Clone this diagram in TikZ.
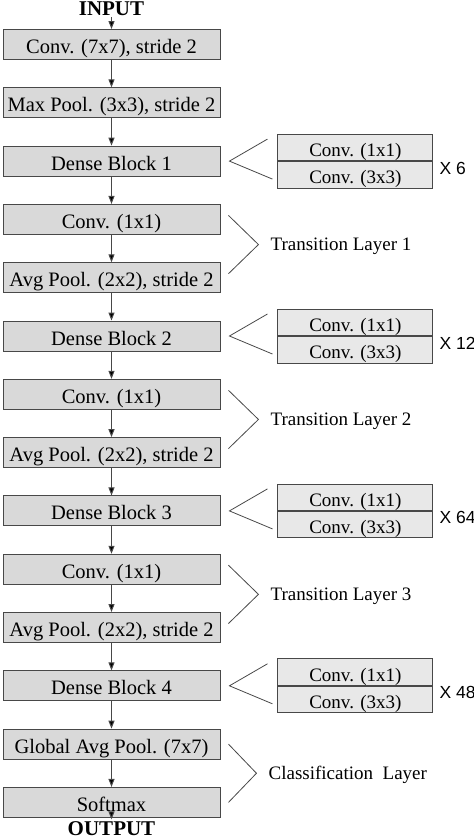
\documentclass[tikz,border=0pt]{standalone}
\usepackage{fontspec}
\setmainfont{Liberation Serif}
\newfontfamily\labelsans{Liberation Sans}
\usetikzlibrary{positioning,calc,arrows.meta}
\definecolor{boxfill}{HTML}{D9D9D9}
\definecolor{subfill}{HTML}{E8E8E8}
\definecolor{edgegray}{HTML}{484848}
\tikzset{
  layer/.style={draw=edgegray, fill=boxfill, line width=0.9pt,
    minimum width=217pt, minimum height=30pt, inner sep=2pt,
    text height=21pt, text depth=3pt, font=\fontsize{20.5}{24}\selectfont},
  unit/.style={draw=edgegray, fill=subfill, line width=0.9pt,
    minimum width=155pt, minimum height=26.5pt, inner sep=2pt,
    text height=20pt, text depth=2pt, font=\fontsize{19}{22}\selectfont},
  io/.style={font=\fontsize{21}{24}\selectfont\bfseries, inner sep=2pt, anchor=base},
  brace/.style={draw=edgegray, line width=0.8pt},
  side/.style={font=\fontsize{19}{22}\selectfont, anchor=west, inner sep=0pt},
  times/.style={font=\labelsans\fontsize{17.5}{20}\selectfont, anchor=west, inner sep=0pt}
}
\begin{document}
\begin{tikzpicture}[node distance=27.4pt, >={Triangle[length=8pt,width=6pt]}]
  \useasboundingbox (0,0) rectangle (474pt,-839pt);

  \node[io] (in) at (111.5pt,-15pt) {INPUT};

  \node[layer] (conv) at (111.5pt,-44.5pt) {Conv. (7x7), stride 2};
  \node[layer, below=of conv] (pool) {Max Pool. (3x3), stride 2};
  \node[layer, below=of pool] (d1) {Dense Block 1};
  \node[layer, below=of d1] (t1c) {Conv. (1x1)};
  \node[layer, below=of t1c] (t1p) {Avg Pool. (2x2), stride 2};
  \node[layer, below=of t1p] (d2) {Dense Block 2};
  \node[layer, below=of d2] (t2c) {Conv. (1x1)};
  \node[layer, below=of t2c] (t2p) {Avg Pool. (2x2), stride 2};
  \node[layer, below=of t2p] (d3) {Dense Block 3};
  \node[layer, below=of d3] (t3c) {Conv. (1x1)};
  \node[layer, below=of t3c] (t3p) {Avg Pool. (2x2), stride 2};
  \node[layer, below=of t3p] (d4) {Dense Block 4};
  \node[layer, below=of d4] (gap) {Global Avg Pool. (7x7)};
  \node[layer, below=of gap] (soft) {Softmax};

  \node[io] (out) at (111.5pt,-835.5pt) {OUTPUT};

  \path[->, draw=edgegray, line width=1pt]
    (in) edge (conv)
    (conv) edge (pool)
    (pool) edge (d1)
    (d1) edge (t1c)
    (t1c) edge (t1p)
    (t1p) edge (d2)
    (d2) edge (t2c)
    (t2c) edge (t2p)
    (t2p) edge (d3)
    (d3) edge (t3c)
    (t3c) edge (t3p)
    (t3p) edge (d4)
    (d4) edge (gap)
    (gap) edge (soft)
    (soft) edge (out);

  % dense block contents
  \node[unit, anchor=south west] (d1a) at ([xshift=57pt]d1.east) {Conv. (1x1)};
  \node[unit, below=0pt of d1a] (d1b) {Conv. (3x3)};
  \node[times] (d1x) at ([xshift=6pt,yshift=-7pt]d1b.north east) {X 6};
  \draw[brace] ([xshift=47pt,yshift=22pt]d1.east) -- ([xshift=9pt]d1.east)
    -- ([xshift=52pt,yshift=-18pt]d1.east);

  \node[unit, anchor=south west] (d2a) at ([xshift=57pt]d2.east) {Conv. (1x1)};
  \node[unit, below=0pt of d2a] (d2b) {Conv. (3x3)};
  \node[times] (d2x) at ([xshift=6pt,yshift=-7pt]d2b.north east) {X 12};
  \draw[brace] ([xshift=47pt,yshift=22pt]d2.east) -- ([xshift=9pt]d2.east)
    -- ([xshift=52pt,yshift=-18pt]d2.east);

  \node[unit, anchor=south west] (d3a) at ([xshift=57pt]d3.east) {Conv. (1x1)};
  \node[unit, below=0pt of d3a] (d3b) {Conv. (3x3)};
  \node[times] (d3x) at ([xshift=6pt,yshift=-7pt]d3b.north east) {X 64};
  \draw[brace] ([xshift=47pt,yshift=22pt]d3.east) -- ([xshift=9pt]d3.east)
    -- ([xshift=52pt,yshift=-18pt]d3.east);

  \node[unit, anchor=south west] (d4a) at ([xshift=57pt]d4.east) {Conv. (1x1)};
  \node[unit, below=0pt of d4a] (d4b) {Conv. (3x3)};
  \node[times] (d4x) at ([xshift=6pt,yshift=-7pt]d4b.north east) {X 48};
  \draw[brace] ([xshift=47pt,yshift=22pt]d4.east) -- ([xshift=9pt]d4.east)
    -- ([xshift=52pt,yshift=-18pt]d4.east);

  % transition and classification layers
  \draw[brace] ([xshift=8pt,yshift=4pt]t1c.east)
    -- ($(t1c.east)!.5!(t1p.east)+(38pt,4pt)$) coordinate (t1)
    -- ([xshift=8pt,yshift=4pt]t1p.east);
  \node[side] (t1l) at ([xshift=12pt,yshift=-2pt]t1) {Transition Layer 1};

  \draw[brace] ([xshift=8pt,yshift=4pt]t2c.east)
    -- ($(t2c.east)!.5!(t2p.east)+(38pt,4pt)$) coordinate (t2)
    -- ([xshift=8pt,yshift=4pt]t2p.east);
  \node[side] (t2l) at ([xshift=12pt,yshift=-2pt]t2) {Transition Layer 2};

  \draw[brace] ([xshift=8pt,yshift=4pt]t3c.east)
    -- ($(t3c.east)!.5!(t3p.east)+(38pt,4pt)$) coordinate (t3)
    -- ([xshift=8pt,yshift=4pt]t3p.east);
  \node[side] (t3l) at ([xshift=12pt,yshift=-2pt]t3) {Transition Layer 3};

  \draw[brace] ([xshift=8pt]gap.east)
    -- ($(gap.east)!.5!(soft.east)+(36pt,0pt)$) coordinate (cl)
    -- ([xshift=8pt]soft.east);
  \node[side] (cll) at ([xshift=12pt,yshift=-2pt]cl) {Classification\ \ Layer};
\end{tikzpicture}
\end{document}
